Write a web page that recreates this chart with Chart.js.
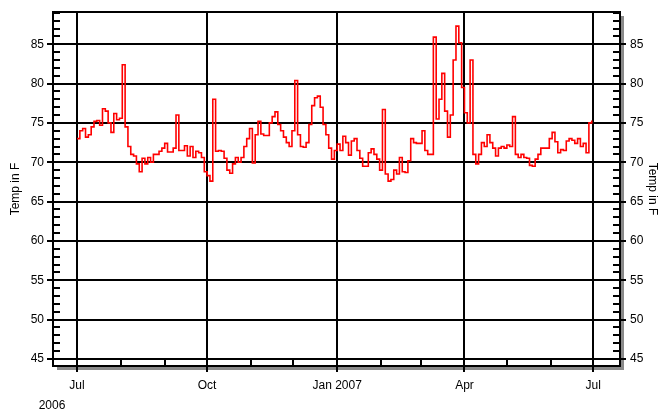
<!DOCTYPE html>
<html lang="en">
<head>
    <meta charset="UTF-8">
    <title>Temp in F</title>
    <script src="https://cdn.jsdelivr.net/npm/chart.js@4.4.0/dist/chart.umd.min.js"></script>
    <style>
        * { margin: 0; padding: 0; }
        body { background: #fff; width: 660px; height: 413px; overflow: hidden; }
        #wrap { position: relative; width: 660px; height: 413px; }
    </style>
</head>
<body>
    <div id="wrap"><canvas id="tempChart"></canvas></div>

    <script>
        // days counted from 1 Jul 2006, one reading every second day
        const firstDay = 0;
        const stepDays = 2;
        const temps = [
            73.0, 74.0, 74.3, 73.2, 73.5, 74.5, 75.2, 75.3, 74.7, 76.8,
            76.5, 75.0, 73.8, 76.2, 75.4, 75.6, 82.4, 74.5, 72.0, 71.0,
            70.8, 69.8, 68.8, 70.5, 69.8, 70.6, 70.0, 71.0, 71.0, 71.4,
            71.8, 72.4, 71.3, 71.3, 71.8, 76.0, 71.5, 71.5, 72.1, 70.8,
            72.0, 70.6, 71.4, 71.2, 70.6, 68.8, 68.3, 67.6, 78.0, 71.4,
            71.5, 71.4, 70.5, 69.0, 68.6, 69.8, 70.6, 70.0, 70.6, 72.0,
            73.0, 74.3, 69.9, 73.5, 75.2, 73.6, 73.4, 73.4, 75.0, 75.8,
            76.4, 74.8, 74.0, 73.2, 72.5, 72.0, 74.0, 80.4, 73.5, 72.0,
            71.9, 72.5, 74.8, 77.2, 78.2, 78.4, 77.0, 74.8, 73.5, 71.8,
            70.4, 71.5, 72.3, 71.5, 73.3, 72.5, 70.9, 72.7, 73.0, 71.5,
            70.5, 69.5, 69.5, 71.2, 71.7, 71.0, 70.4, 69.0, 76.7, 68.5,
            67.6, 67.8, 69.0, 68.5, 70.6, 68.8, 68.7, 70.2, 73.0, 72.5,
            72.4, 72.4, 74.0, 71.5, 71.0, 71.0, 85.9, 75.5, 78.0, 81.3,
            76.5, 73.2, 76.0, 83.0, 87.3, 85.2, 79.5, 76.3, 75.0, 83.0,
            71.0, 69.8, 71.0, 72.5, 72.0, 73.5, 72.5, 71.8, 70.8, 71.8,
            72.0, 71.8, 72.2, 72.0, 75.8, 71.0, 70.6, 71.0, 70.6, 70.5,
            69.6, 69.5, 70.4, 71.0, 71.8, 71.8, 71.8, 73.0, 73.8, 72.6,
            71.2, 71.6, 71.5, 72.7, 73.0, 72.8, 72.4, 73.0, 72.0, 72.4,
            71.2, 75.0, 75.3
        ];
        const tickDays = [0, 92, 184, 274, 365];
        const tickLabels = ['Jul', 'Oct', 'Jan 2007', 'Apr', 'Jul'];
        const monthDays = [31, 62, 123, 153, 215, 243, 304, 335];
        const yearLabel = '2006';
        const yTicks = [45, 50, 55, 60, 65, 70, 75, 80, 85];
        const axisTitle = 'Temp in F';

        const points = temps.map((t, i) => ({ x: firstDay + i * stepDays, y: t }));
        const font = { family: "'Liberation Sans', Arial, sans-serif", size: 12 };

        // shadow, frame and the small inner ticks
        const framePlugin = {
            id: 'frame',
            beforeDraw(chart) {
                const { ctx, chartArea: a } = chart;
                ctx.save();
                ctx.fillStyle = '#fff';
                ctx.fillRect(0, 0, chart.width, chart.height);
                ctx.fillStyle = '#8a8a8a';
                ctx.fillRect(a.left + 4, a.top + 4, a.right - a.left, a.bottom - a.top);
                ctx.fillStyle = '#fff';
                ctx.fillRect(a.left, a.top, a.right - a.left, a.bottom - a.top);
                ctx.restore();
            },
            afterDraw(chart) {
                const { ctx, chartArea: a, scales } = chart;
                ctx.save();
                ctx.strokeStyle = '#000';
                ctx.lineWidth = 2;
                ctx.beginPath();
                for (let v = Math.ceil(scales.y.min); v <= scales.y.max; v++) {
                    const py = Math.round(scales.y.getPixelForValue(v));
                    ctx.moveTo(a.left, py); ctx.lineTo(a.left + 7, py);
                    ctx.moveTo(a.right, py); ctx.lineTo(a.right - 7, py);
                }
                monthDays.forEach(d => {
                    const px = Math.round(scales.x.getPixelForValue(d));
                    ctx.moveTo(px, a.bottom); ctx.lineTo(px, a.bottom - 8);
                });
                ctx.stroke();
                ctx.strokeRect(a.left, a.top, a.right - a.left, a.bottom - a.top);
                ctx.fillStyle = '#000';
                ctx.font = "12px 'Liberation Sans', Arial, sans-serif";
                ctx.textAlign = 'center';
                ctx.textBaseline = 'alphabetic';
                ctx.fillText(yearLabel, scales.x.getPixelForValue(tickDays[0]) - 25, chart.height - 4);
                ctx.restore();
            }
        };

        new Chart(document.getElementById('tempChart'), {
            type: 'line',
            data: {
                datasets: [{
                    data: points,
                    borderColor: '#ff0000',
                    borderWidth: 1.6,
                    pointRadius: 0,
                    stepped: true,
                    fill: false
                }]
            },
            options: {
                responsive: true,
                maintainAspectRatio: false,
                animation: false,
                layout: { padding: { top: 12, left: 0, right: 0, bottom: 0 } },
                plugins: { legend: { display: false }, tooltip: { enabled: false } },
                scales: {
                    x: {
                        type: 'linear',
                        min: -17,
                        max: 384,
                        afterBuildTicks: s => { s.ticks = tickDays.map(v => ({ value: v })); },
                        afterFit: s => { s.height = 47; },
                        grid: { color: '#000', lineWidth: 2, tickLength: 6 },
                        border: { display: false },
                        ticks: {
                            color: '#000', font, padding: 6, maxRotation: 0, autoSkip: false,
                            callback: v => tickLabels[tickDays.indexOf(v)]
                        }
                    },
                    y: {
                        position: 'left',
                        min: 44.1,
                        max: 89.1,
                        afterBuildTicks: s => { s.ticks = yTicks.map(v => ({ value: v })); },
                        afterFit: s => { s.width = 53; },
                        grid: { color: '#000', lineWidth: 2, tickLength: 6 },
                        border: { display: false },
                        ticks: { color: '#000', font, padding: 3 },
                        title: { display: true, text: axisTitle, color: '#000', font, padding: { top: 8, bottom: 0 } }
                    },
                    y2: {
                        position: 'right',
                        min: 44.1,
                        max: 89.1,
                        afterBuildTicks: s => { s.ticks = yTicks.map(v => ({ value: v })); },
                        afterFit: s => { s.width = 40; },
                        grid: { color: '#000', lineWidth: 2, tickLength: 6, drawOnChartArea: false },
                        border: { display: false },
                        ticks: { color: '#000', font, padding: 4 },
                        title: { display: true, text: axisTitle, color: '#000', font, padding: { top: 0, bottom: 0 } }
                    }
                }
            },
            plugins: [framePlugin]
        });
    </script>
</body>
</html>
